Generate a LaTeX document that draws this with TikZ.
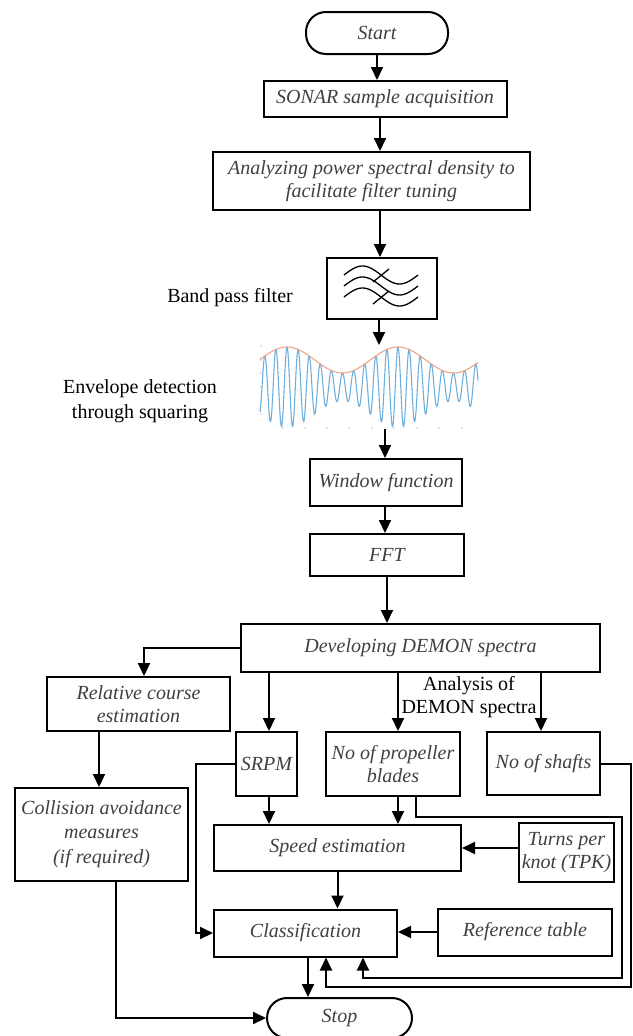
\documentclass[tikz,border=0pt]{standalone}
\usepackage{fontspec}
\setmainfont{Liberation Serif}
\usetikzlibrary{arrows.meta,calc}
\definecolor{txt}{RGB}{64,64,64}
\definecolor{sig}{RGB}{110,175,222}
\definecolor{env}{RGB}{240,165,135}
\begin{document}
\begin{tikzpicture}[x=1pt,y=-1pt,
  box/.style={draw, line width=2pt, inner sep=1pt, align=center,
    font=\fontsize{20}{23}\selectfont\itshape, text=txt},
  term/.style={box, rounded corners=20pt},
  lbl/.style={align=center, font=\fontsize{20}{23}\selectfont, inner sep=0pt},
  arr/.style={-{Triangle[length=13pt,width=12pt]}, line width=2pt},
  thinline/.style={line width=1.3pt}]
\useasboundingbox (0,0) rectangle (632,1036);

% nodes
\node[term, minimum width=142pt, minimum height=42pt] (start) at (377,33) {Start};
\node[box, minimum width=243pt, minimum height=36pt] (sonar) at (385,99) {SONAR sample acquisition};
\node[box, minimum width=317pt, minimum height=58pt] (psd) at (371.5,181) {Analyzing power spectral density to\\facilitate filter tuning};
\node[draw, line width=2pt, minimum width=110pt, minimum height=61pt] (bpf) at (382,288.5) {};
\node[lbl, anchor=east] (bpflbl) at (293,298) {Band pass filter};
\node[lbl] (envlbl) at (140,401) {Envelope detection\\[2pt]through squaring};
\node[box, minimum width=152pt, minimum height=47pt] (win) at (386,482.5) {Window function};
\node[box, minimum width=154pt, minimum height=42pt] (fft) at (387,555) {FFT};
\node[box, minimum width=359pt, minimum height=48pt] (demon) at (420.5,648) {Developing DEMON spectra};
\node[box, minimum width=183pt, minimum height=54pt] (rel) at (138.5,704) {Relative course\\estimation};
\node[box, minimum width=173pt, minimum height=93pt] (coll) at (101.5,834.5) {Collision avoidance\\[1pt]measures\\[2pt](if required)};
\node[box, minimum width=61pt, minimum height=64pt] (srpm) at (266.5,764) {SRPM};
\node[box, minimum width=134pt, minimum height=64pt] (prop) at (393,764) {No of propeller\\blades};
\node[box, minimum width=113pt, minimum height=63pt] (shafts) at (543.5,763.5) {No of shafts};
\node[lbl] (anlbl) at (469,697) {Analysis of\\DEMON spectra};
\node[box, minimum width=247pt, minimum height=46pt] (speed) at (337.5,848) {Speed estimation};
\node[box, minimum width=95pt, minimum height=59pt] (tpk) at (566.5,852.5) {Turns per\\knot (TPK)};
\node[box, minimum width=183pt, minimum height=47pt] (class) at (305.5,933) {Classification};
\node[box, minimum width=174pt, minimum height=47pt] (ref) at (525,932) {Reference table};
\node[term, minimum width=145pt, minimum height=40pt] (stop) at (339.5,1018) {Stop};

% band pass symbol
\foreach \c in {275,286,297}
  \draw[thinline] plot[domain=0:360, samples=40, smooth] ({344+0.20556*\x},{\c-9*sin(\x)});
\draw[thinline] (373,282) -- (389,269);
\draw[thinline] (373,304) -- (389,291);

% envelope plot
\foreach \yy in {346,360,373,387,401,414} \fill[gray!45] (261,\yy) circle (0.8);
\foreach \xx in {283,305,327,349,372,394,417,439,462} \fill[gray!45] (\xx,428) circle (0.8);
\draw[sig, line width=1.1pt] plot[domain=260:478, samples=700]
  ({\x},{387-(27+13*cos(3.2432*(\x-287)))*cos(32.432*(\x-287))});
\draw[env, line width=1.1pt] plot[domain=260:478, samples=100, smooth]
  ({\x},{387-(27+13*cos(3.2432*(\x-287)))});
\coordinate (wavetop) at (379,345);
\coordinate (wavebot) at (385,429);

% guide coordinates
\coordinate (gA) at (380,0);
\coordinate (gR) at (144,0);
\coordinate (gC) at (99,0);
\coordinate (gS) at (269,0);
\coordinate (gP) at (398,0);
\coordinate (gH) at (541,0);
\coordinate (gL) at (196,0);
\coordinate (p1) at (416,817);
\coordinate (p2) at (622,978);
\coordinate (gI) at (363,0);
\coordinate (q2) at (631,987);
\coordinate (gO) at (326,0);
\coordinate (gT) at (308,0);
\coordinate (gK) at (116,0);

% connectors
\draw[arr] (start.south) -- (start.south |- sonar.north);
\draw[arr] (gA |- sonar.south) -- (gA |- psd.north);
\draw[arr] (gA |- psd.south) -- (gA |- bpf.north);
\draw[arr] (wavetop |- bpf.south) -- (wavetop);
\draw[arr] (wavebot) -- (wavebot |- win.north);
\draw[arr] (wavebot |- win.south) -- (wavebot |- fft.north);
\draw[arr] (fft.south) -- (fft.south |- demon.north);
\draw[arr] (demon.west) -| (gR |- rel.north);
\draw[arr] (gC |- rel.south) -- (gC |- coll.north);
\draw[arr] (gS |- demon.south) -- (gS |- srpm.north);
\draw[arr] (gP |- demon.south) -- (gP |- prop.north);
\draw[arr] (gH |- demon.south) -- (gH |- shafts.north);
\draw[arr] (gS |- srpm.south) -- (gS |- speed.north);
\draw[arr] (gP |- prop.south) -- (gP |- speed.north);
\draw[arr] (tpk.west |- speed.east) -- (speed.east);
\draw[arr] (speed.south) -- (speed.south |- class.north);
\draw[arr] (ref.west) -- (ref.west -| class.east);
\draw[arr] (srpm.west) -- (gL |- srpm.west) -- (gL |- class.west) -- (class.west);
\draw[arr] (p1 |- prop.south) -- (p1) -- (p2 |- p1) -- (p2) -- (gI |- p2) -- (gI |- class.south);
\draw[arr] (shafts.east) -- (q2 |- shafts.east) -- (q2) -- (gO |- q2) -- (gO |- class.south);
\draw[arr] (gT |- class.south) -- (gT |- stop.north);
\draw[arr] (gK |- coll.south) -- (gK |- stop.west) -- (stop.west);
\end{tikzpicture}
\end{document}
